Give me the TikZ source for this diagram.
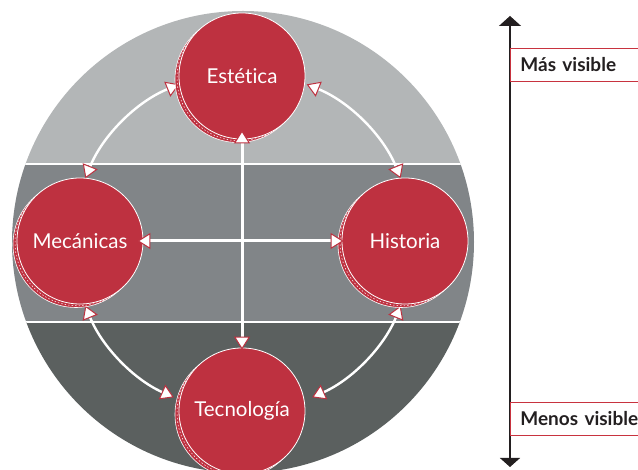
\documentclass[tikz,border=0pt]{standalone}
\usepackage{fontspec}
\setmainfont{Lato}[Ligatures={NoCommon}]
\usetikzlibrary{arrows.meta,calc}
\definecolor{cred}{HTML}{BE3140}
\definecolor{glight}{HTML}{B3B6B7}
\definecolor{gmid}{HTML}{818588}
\definecolor{gdark}{HTML}{5B605F}
\definecolor{ink}{HTML}{231F20}
\definecolor{boxred}{HTML}{C8333F}
\tikzset{
  wt/.tip={Triangle[color=cred,fill=white,length=13pt,width=16pt,line width=1pt]},
  coin/.style={circle,fill=cred,draw=white,line width=0.8pt,minimum size=126pt,inner sep=0pt,
    text=white,font=\fontsize{20.5}{24}\selectfont},
  coinback/.style={fill=cred,draw=white,line width=0.6pt},
  coinmid/.style={draw=white,line width=0.5pt,dash pattern=on 1.5pt off 2pt},
  arcline/.style={draw=white,line width=2.4pt,{wt}-{wt}},
  crossline/.style={draw=white,line width=3pt,{wt}-{wt}},
  scaleline/.style={draw=ink,line width=1.2pt,
    {Triangle[length=9pt,width=20pt]}-{Triangle[length=10pt,width=22pt]}},
  tag/.style={draw=boxred,line width=0.8pt,anchor=west,minimum height=33pt,
    text width=125pt,align=left,inner xsep=10pt,text=ink,
    font=\bfseries\fontsize{19}{22}\selectfont}
}
\begin{document}
\begin{tikzpicture}[x=1pt,y=1pt]
\useasboundingbox (0,0) rectangle (638,470);
% big circle with bands
\coordinate (C) at (243,228);
\begin{scope}
  \clip (C) circle[radius=231];
  \fill[glight] (0,306) rectangle (638,470);
  \fill[gmid] (0,148) rectangle (638,306);
  \fill[gdark] (0,0) rectangle (638,148);
  \draw[white,line width=2pt] (0,306) -- (638,306);
  \draw[white,line width=2pt] (0,148) -- (638,148);
\end{scope}
% arcs
\foreach \s/\e in {112/158, 68/22, 202/246, 338/294}{
  \coordinate (a\s) at ($(C)+(\s:170)$);
  \draw[arcline] (a\s) arc[start angle=\s,end angle=\e,radius=170];
}
% circle centres
\coordinate (cE) at (242,394);
\coordinate (cM) at (80,229);
\coordinate (cH) at (405,229);
\coordinate (cT) at (242,59);
% stacked backs
\foreach \c in {cE,cM,cH,cT}{
  \draw[coinback] ($(\c)+(-4,-3.5)$) circle[radius=63];
  \draw[coinmid] ($(\c)+(-2,-1.8)$) circle[radius=63];
}
\node[coin] (E) at (cE) {Estética};
\node[coin] (M) at (cM) {Mecánicas};
\node[coin] (H) at (cH) {Historia};
\node[coin] (T) at (cT) {Tecnología};
% cross
\draw[crossline,shorten <=-9pt,shorten >=-2pt] (E.south) -- (T.north);
\draw[crossline,shorten <=-6pt,shorten >=-2pt] (M.east) -- (H.west);
% scale
\coordinate (up) at (510,454);
\coordinate (dn) at (510,3);
\draw[scaleline] (dn) -- (up);
\node[tag] (mas) at (510,405.5) {Más visible};
\node[tag] (menos) at (510,51) {Menos visible};
\end{tikzpicture}
\end{document}
